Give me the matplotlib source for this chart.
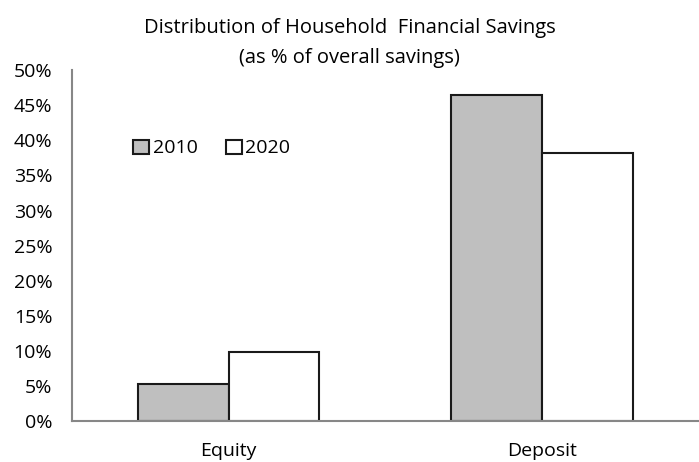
import numpy as np
import matplotlib.pyplot as plt

categories = ['Equity', 'Deposit']
years = ['2010', '2020']
share_2010 = [5.3, 46.5]
share_2020 = [9.9, 38.2]
yticks = [0, 5, 10, 15, 20, 25, 30, 35, 40, 45, 50]

plt.rcParams['font.family'] = ['Open Sans', 'DejaVu Sans']

fig = plt.figure(figsize=(6.99, 4.62), dpi=100)
ax = fig.add_axes([0.1026, 0.0887, 0.8974, 0.7593])

x = np.arange(len(categories))
w = 0.29
ax.bar(x - w / 2, share_2010, w, color='#bfbfbf', edgecolor='#1a1a1a', linewidth=1.5, label=years[0])
ax.bar(x + w / 2, share_2020, w, color='white', edgecolor='#1a1a1a', linewidth=1.5, label=years[1])

ax.set_xlim(-0.5, 1.5)
ax.set_ylim(0, 50)
ax.set_yticks(yticks)
ax.set_yticklabels([f'{t}%' for t in yticks], fontsize=14)
ax.set_xticks(x)
ax.set_xticklabels(categories, fontsize=14)
ax.tick_params(axis='both', length=0)
ax.tick_params(axis='y', pad=14)
ax.tick_params(axis='x', pad=15)

for s in ['top', 'right']:
    ax.spines[s].set_visible(False)
for s in ['left', 'bottom']:
    ax.spines[s].set_color('#878787')
    ax.spines[s].set_linewidth(1.5)

ax.legend(loc='center left', bbox_to_anchor=(0.086, 0.777), ncol=2, frameon=False,
          fontsize=14, handlelength=0.8, handleheight=0.75, handletextpad=0.2,
          columnspacing=1.45, borderaxespad=0)

fig.text(0.5, 0.94, 'Distribution of Household  Financial Savings', ha='center', va='center', fontsize=14.5)
fig.text(0.5, 0.875, '(as % of overall savings)', ha='center', va='center', fontsize=14.5)

fig.savefig('out.png', dpi=100)
